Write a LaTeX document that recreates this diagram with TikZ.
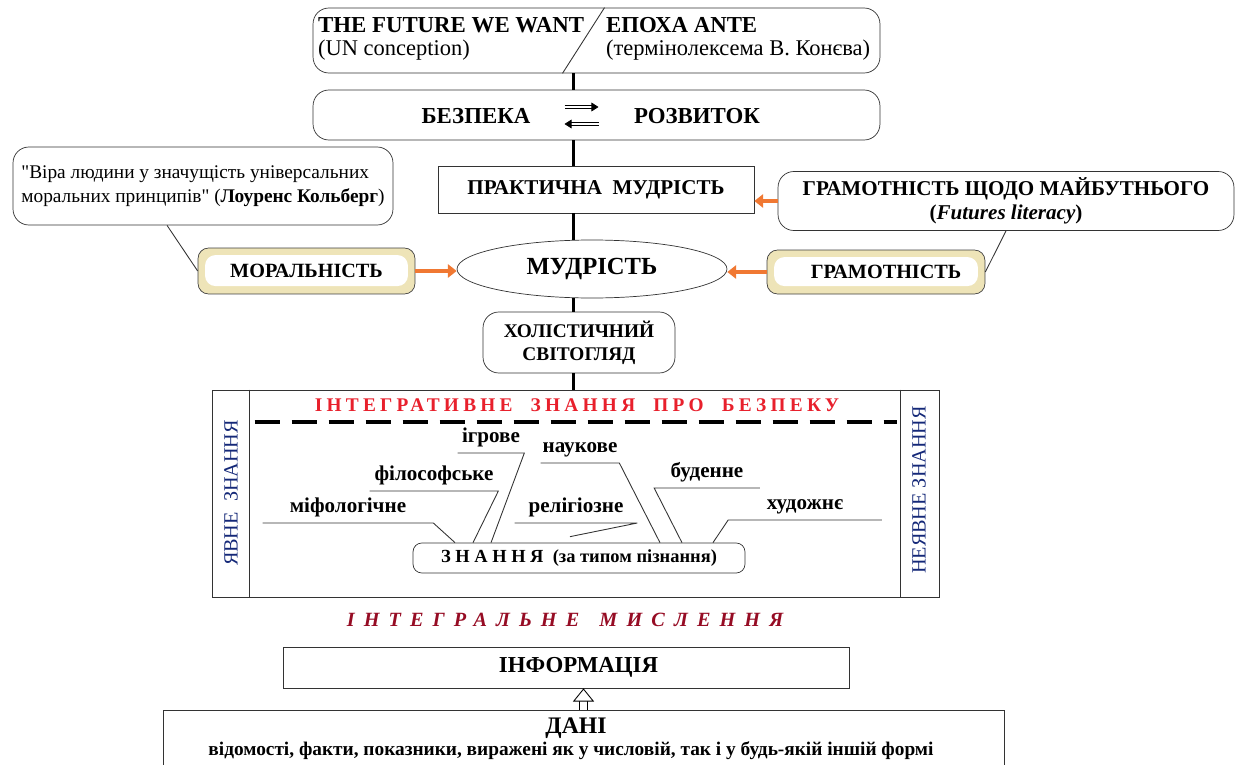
\documentclass[tikz,border=0pt]{standalone}
\usepackage{fontspec}
\setmainfont{Liberation Serif}
\usetikzlibrary{positioning,shapes.geometric,arrows.meta}
\definecolor{tanfill}{RGB}{238,228,184}
\definecolor{arroworange}{RGB}{240,120,50}
\definecolor{titlered}{RGB}{232,32,44}
\definecolor{thinkred}{RGB}{150,12,36}
\definecolor{sideblue}{RGB}{20,40,120}
\newcommand{\plainquote}{\XeTeXglyph\XeTeXcharglyph"22\relax}

\begin{document}
\begin{tikzpicture}[x=0.02cm, y=-0.02cm]
    % Define styles
    \tikzstyle{roundbox}=[draw=black!80, rounded corners=9pt, inner sep=0pt]
    \tikzstyle{box}=[draw=black!80, inner sep=0pt]
    \tikzstyle{tanbox}=[draw=black!75, fill=tanfill, rounded corners=6pt, inner sep=0pt, path picture={\fill[white] ([xshift=4pt,yshift=4.5pt]path picture bounding box.south west) rectangle ([xshift=-4pt,yshift=-4pt]path picture bounding box.north east);}]
    \tikzstyle{txt}=[inner sep=1pt]
    \tikzstyle{spine}=[line width=1.7pt]
    \tikzstyle{oarrow}=[draw=arroworange, line width=2.6pt, -{Triangle[length=5pt,width=7.5pt]}]
    \tikzstyle{harrow}=[draw=black, double=white, double distance=3.6pt, line width=0.5pt, -{Triangle[fill=white, length=7.5pt, width=12pt]}]
    \tikzstyle{sarrow}=[draw=black, double=white, double distance=1.6pt, line width=0.4pt, -{Triangle[length=4pt,width=5pt]}]
    \tikzstyle{lbl}=[font=\fontsize{12}{14}\selectfont\bfseries, inner xsep=0pt, inner ysep=3.5pt, anchor=south, text height=0.72em, text depth=0.25em]
    \tikzstyle{leader}=[draw=black!80, line width=0.5pt]

    \useasboundingbox (0,0) rectangle (1240,764);
    \coordinate (spine) at (573,0);

    % Conceptions
    \node[roundbox, minimum width=11.34cm, minimum height=1.3cm] (fut) at (596.5,40.5) {};
    \node[txt, anchor=west, font=\fontsize{13}{15}\selectfont\bfseries] (want) at (316,25) {THE FUTURE WE WANT};
    \node[txt, anchor=west, font=\fontsize{12.8}{15}\selectfont] (unc) at (316,50) {(UN conception)};
    \node[txt, anchor=west, font=\fontsize{13}{15}\selectfont\bfseries] (ante) at (604,25) {ЕПОХА ANTE};
    \node[txt, anchor=west, font=\fontsize{12.8}{15}\selectfont] (konev) at (604,50) {(термінолексема В. Конєва)};
    \draw[leader] ([xshift=0.16cm]fut.north) -- ([xshift=-0.68cm]fut.south);

    \node[roundbox, minimum width=11.34cm, minimum height=1cm] (bezbox) at (596.5,115) {};
    \node[txt, font=\fontsize{13}{15}\selectfont\bfseries] (bez) at (476,116) {БЕЗПЕКА};
    \node[txt, font=\fontsize{13}{15}\selectfont\bfseries] (roz) at (697,116) {РОЗВИТОК};
    \draw[sarrow] ([xshift=-0.64cm,yshift=0.16cm]bezbox.center) -- ([xshift=0.04cm,yshift=0.16cm]bezbox.center);
    \draw[sarrow] ([xshift=0.04cm,yshift=-0.18cm]bezbox.center) -- ([xshift=-0.64cm,yshift=-0.18cm]bezbox.center);

    % Wisdom
    \node[box, minimum width=6.32cm, minimum height=0.94cm, font=\fontsize{12}{14}\selectfont\bfseries] (prak) at (596,189.5) {ПРАКТИЧНА~ МУДРІСТЬ};
    \node[roundbox, minimum width=9.12cm, minimum height=1.18cm, align=center, font=\fontsize{12}{13.6}\selectfont\bfseries] (fl) at (1006,201) {ГРАМОТНІСТЬ ЩОДО МАЙБУТНЬОГО\\(\textit{Futures literacy})};
    \node[ellipse, draw=black!80, minimum width=5.4cm, minimum height=1.16cm, inner sep=0pt, font=\fontsize{14}{16}\selectfont\bfseries] (mud) at (592,269) {МУДРІСТЬ\hspace{0.25cm}};
    \node[tanbox, minimum width=4.34cm, minimum height=0.92cm, font=\fontsize{11.5}{13}\selectfont\bfseries] (moral) at (306.5,271) {МОРАЛЬНІСТЬ};
    \node[tanbox, minimum width=4.36cm, minimum height=0.88cm, font=\fontsize{11.5}{13}\selectfont\bfseries] (gram) at (876,272) {\hspace{0.4cm}ГРАМОТНІСТЬ};
    \node[roundbox, minimum width=7.6cm, minimum height=1.56cm, align=left, font=\fontsize{11}{13.6}\selectfont] (kol) at (203,186) {\plainquote Віра людини у значущість універсальних\\моральних принципів\plainquote\ (\textbf{Лоуренс Кольберг})};
    \node[roundbox, minimum width=3.84cm, minimum height=1.22cm, align=center, font=\fontsize{11}{13}\selectfont\bfseries] (hol) at (579,342.5) {ХОЛІСТИЧНИЙ\\СВІТОГЛЯД};

    % Knowledge
    \node[box, minimum width=14.54cm, minimum height=4.14cm] (big) at (575.5,493.5) {};
    \draw[leader] ([xshift=0.76cm]big.north west) -- ([xshift=0.76cm]big.south west);
    \draw[leader] ([xshift=-0.78cm]big.north east) -- ([xshift=-0.78cm]big.south east);
    \node[txt, rotate=90, text=sideblue, font=\fontsize{11.5}{13}\selectfont] (yav) at (231,493) {ЯВНЕ~ ЗНАННЯ};
    \node[txt, rotate=90, text=sideblue, font=\fontsize{11.5}{13}\selectfont] (neyav) at (919,490) {НЕЯВНЕ ЗНАННЯ};
    \node[txt, text=titlered, font=\fontsize{11}{13}\selectfont\bfseries\addfontfeature{LetterSpace=22}] (intz) at (577,405) {ІНТЕГРАТИВНЕ~ ЗНАННЯ~ ПРО~ БЕЗПЕКУ};
    \draw[line width=2.2pt, dash pattern=on 0.5cm off 0.24cm] ([xshift=0.86cm,yshift=-0.64cm]big.north west) -- ([xshift=-0.84cm,yshift=-0.64cm]big.north east);

    \node[draw=black!80, rounded corners=5pt, minimum width=6.64cm, minimum height=0.6cm, inner sep=0pt, font=\fontsize{10.5}{12}\selectfont\bfseries] (zn) at (579,558) {{\addfontfeature{LetterSpace=25}ЗНАННЯ}~ {\fontsize{10.5}{12}\selectfont(за типом пізнання)}};
    \node[lbl, minimum width=3.4cm] (mif) at (348,523) {міфологічне};
    \node[lbl, minimum width=2.56cm] (fil) at (434,491) {філософське};
    \node[lbl, minimum width=1.32cm] (igr) at (491,453) {ігрове};
    \node[lbl, minimum width=1.56cm] (nauk) at (580,463) {наукове};
    \node[lbl, minimum width=2.44cm] (rel) at (576,523) {релігіозне};
    \node[lbl, minimum width=2.1cm] (bud) at (707,488) {буденне};
    \node[lbl, minimum width=3.06cm] (hud) at (805,520) {художнє};

    % Information
    \node[txt, text=thinkred, font=\fontsize{11.5}{13}\selectfont\bfseries\itshape\addfontfeature{LetterSpace=45}] (intm) at (565,620) {ІНТЕГРАЛЬНЕ\quad МИСЛЕННЯ};
    \node[box, minimum width=11.32cm, minimum height=0.82cm, font=\fontsize{13}{15}\selectfont\bfseries] (info) at (566,667.5) {\hspace{0.5cm}ІНФОРМАЦІЯ};
    \node[box, minimum width=16.82cm, minimum height=1.4cm, anchor=north] (dani) at (583.5,710) {};
    \node[txt, font=\fontsize{13.5}{15}\selectfont\bfseries] (danit) at (576,728) {ДАНІ};
    \node[txt, font=\fontsize{11}{13}\selectfont\bfseries] (danid) at (571,751) {відомості, факти, показники, виражені як у числовій, так і у будь-якій іншій формі};

    % Connections
    \draw[spine] (fut.south -| spine) -- (bezbox.north -| spine);
    \draw[spine] (bezbox.south -| spine) -- (prak.north -| spine);
    \draw[spine] (prak.south -| spine) -- (mud.north -| spine);
    \draw[spine] (mud.south -| spine) -- (hol.north -| spine);
    \draw[spine] (hol.south -| spine) -- (big.north -| spine);
    \draw[oarrow] (fl.west) -- (fl.west -| prak.east);
    \draw[oarrow] (moral.east) -- (moral.east -| mud.west);
    \draw[oarrow] (gram.west) -- (gram.west -| mud.east);
    \draw[leader] ([xshift=-0.72cm]kol.south) -- (moral.west);
    \draw[leader] (fl.south) -- (gram.east);
    \draw[leader] (mif.south west) -- (mif.south east) -- ([xshift=-2.48cm]zn.north);
    \draw[leader] (fil.south west) -- (fil.south east) -- ([xshift=-2.12cm]zn.north);
    \draw[leader] (igr.south west) -- (igr.south east) -- ([xshift=-1.76cm]zn.north);
    \draw[leader] (nauk.south west) -- (nauk.south east) -- ([xshift=1.62cm]zn.north);
    \draw[leader] (rel.south west) -- (rel.south east) -- ([xshift=-0.18cm,yshift=0.12cm]zn.north);
    \draw[leader] (bud.south east) -- (bud.south west) -- ([xshift=2.06cm]zn.north);
    \draw[leader] (hud.south east) -- (hud.south west) -- ([xshift=2.68cm]zn.north);
    \draw[harrow] (dani.north) -- (dani.north |- info.south);
\end{tikzpicture}
\end{document}
